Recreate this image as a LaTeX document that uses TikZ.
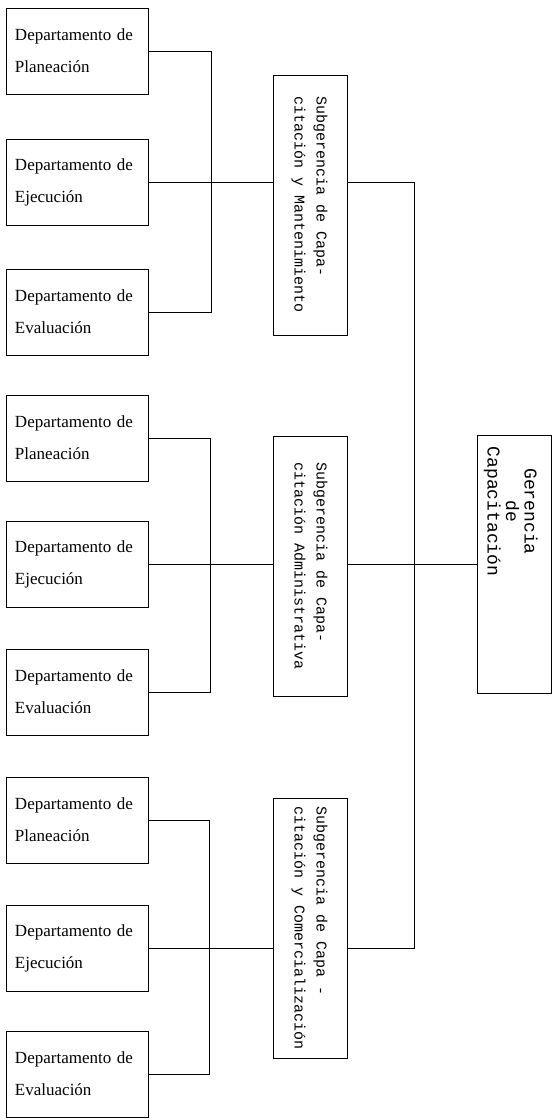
\documentclass[tikz,border=0pt]{standalone}
\usepackage{fontspec}
\setmainfont{Liberation Serif}
\setmonofont{Liberation Mono}
\newcommand\Depto[1]{Departamento de\\#1}
\newcommand\Vertical[2]{\rotatebox{-90}{\begin{tabular}{@{}#1@{}}#2\end{tabular}}}
\tikzset{
  depto/.style={draw, line width=0.9pt, text width=124pt, inner sep=9pt, minimum height=86pt, align=left, font=\fontsize{17}{32}\selectfont},
  subger/.style={draw, line width=0.9pt, minimum width=74pt, minimum height=260pt, inner sep=0pt, font=\ttfamily\fontsize{15}{22}\selectfont},
  linea/.style={line width=0.9pt}
}

\begin{document}
\begin{tikzpicture}[x=1pt,y=-1pt]
\fill[color=white] (0,0) rectangle (552,1120);
\useasboundingbox (0,0) rectangle (552,1120);
% Drawing boxes
% Group 1: Mantenimiento
\node[depto] (plan1) at (77,51) {\Depto{Planeación}};
\node[depto] (ejec1) at (77,182) {\Depto{Ejecución}};
\node[depto] (eval1) at (77,312) {\Depto{Evaluación}};
\node[subger] (subMant) at (310,205) {\Vertical{l}{Subgerencia de Capa-\\citación y Mantenimiento}};
% Group 2: Administrativa
\node[depto] (plan2) at (77,438) {\Depto{Planeación}};
\node[depto] (ejec2) at (77,564) {\Depto{Ejecución}};
\node[depto] (eval2) at (77,692) {\Depto{Evaluación}};
\node[subger] (subAdm) at (310,566) {\Vertical{l}{Subgerencia de Capa-\\citación Administrativa}};
% Group 3: Comercializacion
\node[depto] (plan3) at (77,820) {\Depto{Planeación}};
\node[depto] (ejec3) at (77,948) {\Depto{Ejecución}};
\node[depto] (eval3) at (77,1074) {\Depto{Evaluación}};
\node[subger] (subCom) at (310,928) {\Vertical{l}{Subgerencia de Capa -\\citación y Comercialización}};
% Gerencia
\node[subger, minimum height=258pt] (ger) at (514,564) {};
\node[anchor=north, inner sep=0pt, font=\ttfamily\fontsize{18}{18}\selectfont] (gertxt) at ([xshift=-4pt,yshift=-12pt]ger.north) {\Vertical{c}{Gerencia\\de\\Capacitación}};
% Done with boxes; drawing lines
\coordinate (bus1) at (211,0);
\coordinate (bus2) at (210,0);
\coordinate (bus3) at (209,0);
\coordinate (bus) at (414,0);
\draw[linea] (plan1.east) -- (plan1.east -| bus1) -- (eval1.east -| bus1) -- (eval1.east);
\draw[linea] (ejec1.east) -- (ejec1.east -| subMant.west);
\draw[linea] (plan2.east) -- (plan2.east -| bus2) -- (eval2.east -| bus2) -- (eval2.east);
\draw[linea] (ejec2.east) -- (ejec2.east -| subAdm.west);
\draw[linea] (plan3.east) -- (plan3.east -| bus3) -- (eval3.east -| bus3) -- (eval3.east);
\draw[linea] (ejec3.east) -- (ejec3.east -| subCom.west);
\draw[linea] (subMant.east |- ejec1.east) -- (ejec1.east -| bus) -- (ejec3.east -| bus) -- (subCom.east |- ejec3.east);
\draw[linea] (subAdm.east |- ejec2.east) -- (ger.west |- ejec2.east);
% Done with lines
\end{tikzpicture}
\end{document}
